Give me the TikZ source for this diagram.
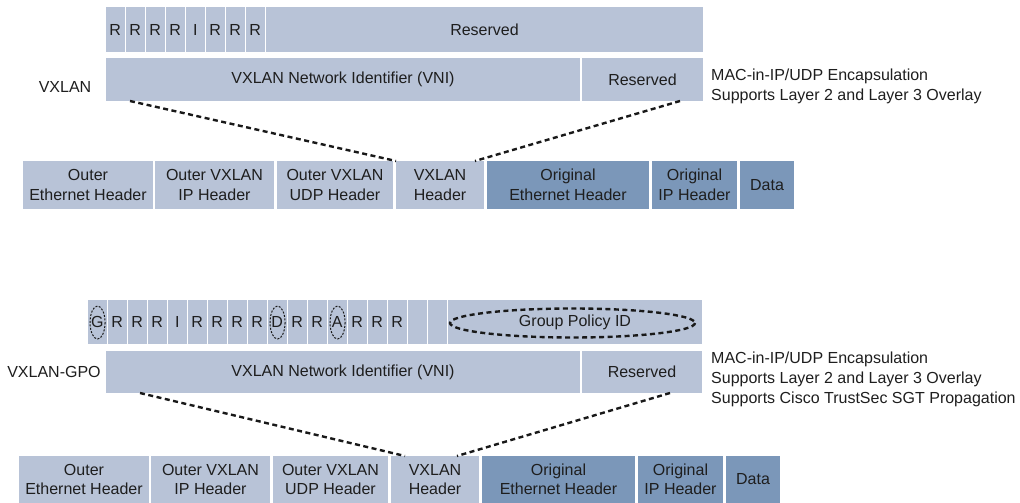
\documentclass[tikz,border=0pt]{standalone}
\usepackage{fontspec}
\setmainfont{Liberation Sans}
\definecolor{lightc}{HTML}{B8C3D7}
\definecolor{darkc}{HTML}{7B97B9}
\definecolor{txt}{HTML}{1E1E1E}
\tikzset{
  cellbox/.style={inner sep=0pt, outer sep=0pt, draw=none, align=center, text=txt,
    font=\fontsize{16}{19.5}\selectfont},
  lightcell/.style={fill=lightc},
  darkcell/.style={fill=darkc},
  plaintext/.style={inner sep=0pt, text=txt, font=\fontsize{16}{20}\selectfont},
  bigdash/.style={draw=black!90, line width=2.4pt, dash pattern=on 5pt off 3.5pt},
  smalldash/.style={draw=black!90, line width=1pt, dash pattern=on 2pt off 1.5pt},
}
\newcommand{\cellnode}[7]{\node[cellbox,#6,minimum width={#4-#2},minimum height={#5-#3}] (#1) at ({(#2+#4)/2},{(#3+#5)/2}) {#7};}
\begin{document}
\begin{tikzpicture}[x=1pt,y=-1pt]
\useasboundingbox (0,0) rectangle (1020,503);
% ---------- Section 1: VXLAN ----------
\foreach \l [count=\i from 0] in {R,R,R,R,I,R,R,R} {
  \pgfmathsetmacro\xa{106+20*\i}
  \pgfmathsetmacro\xb{106+20*\i+18.5}
  \cellnode{fa\i}{\xa}{7}{\xb}{52}{lightcell}{\l}
}
\cellnode{resA}{266}{7}{703}{52}{lightcell}{Reserved}
\cellnode{vniA}{106}{58}{580}{101}{lightcell}{VXLAN Network Identifier (VNI)}
\cellnode{resB}{582}{58}{703}{101}{lightcell}{Reserved}
\node[plaintext] (lblA) at (65,87) {VXLAN};
\node[plaintext, anchor=west, align=left] (txtA) at (711,86) {MAC-in-IP/UDP Encapsulation\\Supports Layer 2 and Layer 3 Overlay};

\cellnode{oehA}{23}{161}{153}{209}{lightcell}{Outer\\Ethernet Header}
\cellnode{oipA}{155}{161}{274}{209}{lightcell}{Outer VXLAN\\IP Header}
\cellnode{oudA}{277}{161}{393}{209}{lightcell}{Outer VXLAN\\UDP Header}
\cellnode{vhA}{396}{161}{484}{209}{lightcell}{VXLAN\\Header}
\cellnode{ethA}{487}{161}{649}{209}{darkcell}{Original\\Ethernet Header}
\cellnode{ipA}{652}{161}{737}{209}{darkcell}{Original\\IP Header}
\cellnode{dataA}{740}{161}{794}{209}{darkcell}{Data}

\draw[bigdash] ([xshift=24pt]vniA.south west) -- (vhA.north west);
\draw[bigdash] ([xshift=-23pt]resB.south east) -- ([xshift=-9pt]vhA.north east);

% ---------- Section 2: VXLAN-GPO ----------
\foreach \l [count=\i from 0] in {G,R,R,R,I,R,R,R,R,D,R,R,A,R,R,R,{},{}} {
  \pgfmathsetmacro\xa{88+20*\i}
  \pgfmathsetmacro\xb{88+20*\i+18.5}
  \cellnode{fb\i}{\xa}{300}{\xb}{344}{lightcell}{\l}
}
\cellnode{gp}{448}{300}{702}{344}{lightcell}{Group Policy ID}
\draw[smalldash] ([xshift=0.3pt,yshift=-0.5pt]fb0.center) ellipse (7.5 and 16.5);
\draw[smalldash] ([xshift=0.3pt,yshift=-0.5pt]fb9.center) ellipse (7.5 and 16.5);
\draw[smalldash] ([xshift=0.3pt,yshift=-0.5pt]fb12.center) ellipse (7.5 and 16.5);
\draw[bigdash] ([xshift=-2.5pt,yshift=-1pt]gp.center) ellipse (122.5 and 14.5);

\cellnode{vniB}{106}{351}{580}{393}{lightcell}{VXLAN Network Identifier (VNI)}
\cellnode{resC}{582}{351}{702}{393}{lightcell}{Reserved}
\node[plaintext] (lblB) at (54,372) {VXLAN-GPO};
\node[plaintext, anchor=west, align=left] (txtB) at (711,379) {MAC-in-IP/UDP Encapsulation\\Supports Layer 2 and Layer 3 Overlay\\Supports Cisco TrustSec SGT Propagation};

\cellnode{oehB}{19}{456}{149}{503}{lightcell}{Outer\\Ethernet Header}
\cellnode{oipB}{151}{456}{270}{503}{lightcell}{Outer VXLAN\\IP Header}
\cellnode{oudB}{273}{456}{388}{503}{lightcell}{Outer VXLAN\\UDP Header}
\cellnode{vhB}{391}{456}{479}{503}{lightcell}{VXLAN\\Header}
\cellnode{ethB}{482}{456}{635}{503}{darkcell}{Original\\Ethernet Header}
\cellnode{ipB}{638}{456}{723}{503}{darkcell}{Original\\IP Header}
\cellnode{dataB}{726}{456}{780}{503}{darkcell}{Data}

\draw[bigdash] ([xshift=34pt]vniB.south west) -- ([xshift=14pt]vhB.north west);
\draw[bigdash] ([xshift=-32pt]resC.south east) -- ([xshift=-22pt]vhB.north east);
\end{tikzpicture}
\end{document}
